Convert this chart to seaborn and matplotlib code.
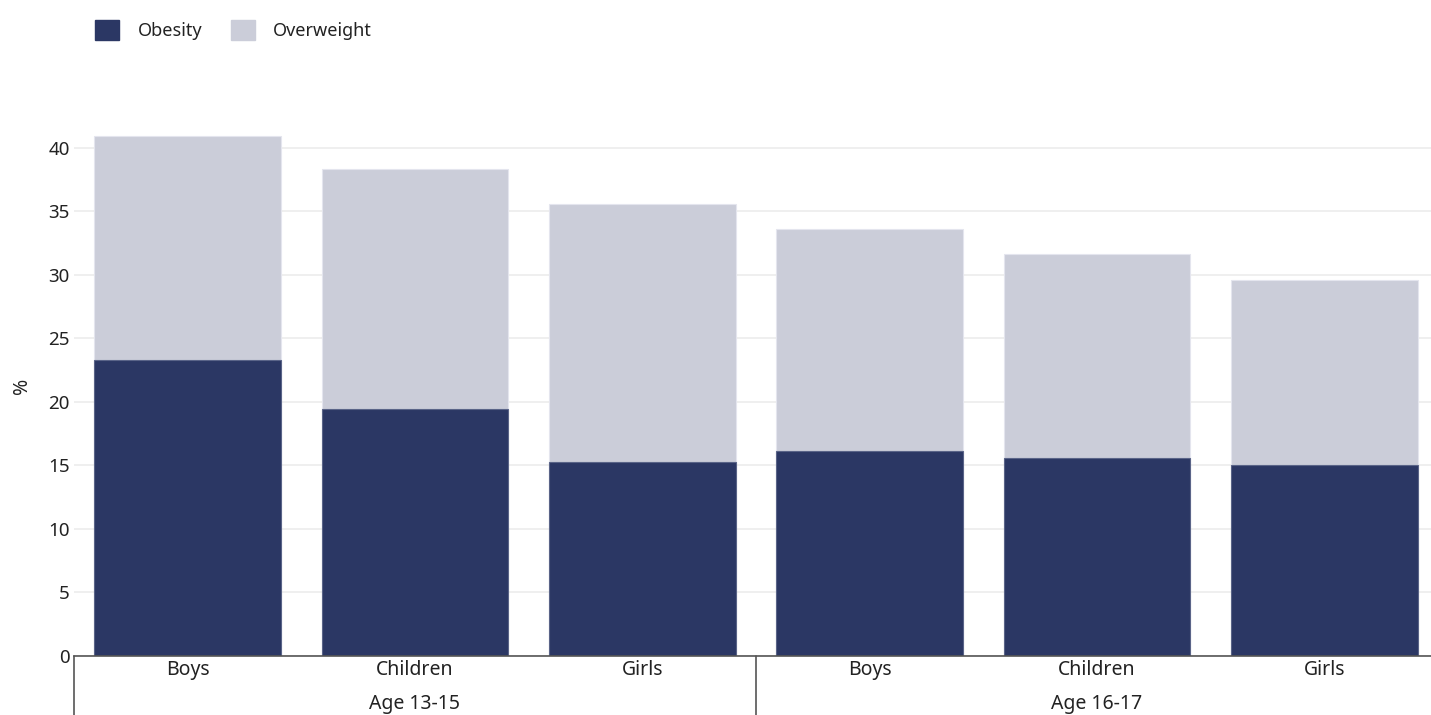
import matplotlib
matplotlib.use("Agg")
import matplotlib.pyplot as plt
import matplotlib.transforms as mtransforms
from matplotlib.patches import Patch
import seaborn as sns
import pandas as pd

# chart data
groups = ["Age 13-15", "Age 13-15", "Age 13-15", "Age 16-17", "Age 16-17", "Age 16-17"]
subgroups = ["Boys", "Children", "Girls", "Boys", "Children", "Girls"]
obesity = [23.3, 19.4, 15.3, 16.1, 15.6, 15.0]
overweight = [17.6, 18.9, 20.3, 17.5, 16.0, 14.6]
yticks = [0, 5, 10, 15, 20, 25, 30, 35, 40]

navy = "#2b3764"
light = "#cbcdd9"
text_col = "#222222"

sns.set_theme(style="white")
plt.rcParams["font.family"] = ["Noto Sans", "DejaVu Sans"]

df = pd.DataFrame({
    "key": [f"{g}|{s}" for g, s in zip(groups, subgroups)],
    "group": groups,
    "sub": subgroups,
    "obesity": obesity,
    "overweight": overweight,
})
df["total"] = df["obesity"] + df["overweight"]
order = list(df["key"])

fig = plt.figure(figsize=(14.31, 7.15), dpi=100)
ax = fig.add_axes([0.0517, 0.0825, 0.9532, 0.7555])

# stacked bars: total (overweight on top) first, then obesity over it
sns.barplot(data=df, x="key", y="total", order=order, color=light, width=0.82,
            edgecolor="#e4e5ee", linewidth=0.8, saturation=1, ax=ax)
sns.barplot(data=df, x="key", y="obesity", order=order, color=navy, width=0.82,
            edgecolor="#5a6488", linewidth=0.8, saturation=1, ax=ax)

ax.set_xlim(-0.5, len(order) - 0.5)
ax.set_ylim(0, 42.5)
ax.set_yticks(yticks)
ax.set_yticklabels([str(t) for t in yticks], fontsize=13.5, color=text_col)
ax.yaxis.grid(True, color="#ececec", linewidth=1.2)
ax.set_axisbelow(True)
ax.tick_params(axis="y", length=0, pad=3)
ax.tick_params(axis="x", length=0, pad=3)
ax.set_xticks(range(len(order)))
ax.set_xticklabels(subgroups, fontsize=14, color=text_col)
ax.set_xlabel("")
ax.set_ylabel("%", fontsize=14, color=text_col, labelpad=12)

for side in ["top", "right", "left"]:
    ax.spines[side].set_visible(False)
ax.spines["bottom"].set_color("#555555")
ax.spines["bottom"].set_linewidth(1.2)

# group labels and separators under the axis
trans = mtransforms.blended_transform_factory(ax.transData, ax.transAxes)
bottom_y = -0.0825 / 0.7555
for x in [-0.5, 2.5, 5.5]:
    ax.plot([x, x], [0, bottom_y], transform=trans, color="#555555",
            linewidth=1.2, clip_on=False)
seen = []
for i, g in enumerate(groups):
    if g in seen:
        continue
    seen.append(g)
    idx = [j for j, gg in enumerate(groups) if gg == g]
    center = (idx[0] + idx[-1]) / 2
    ax.text(center, -0.088, g, transform=trans, ha="center", va="center",
            fontsize=14, color=text_col)

handles = [Patch(facecolor=navy, edgecolor=navy, label="Obesity"),
           Patch(facecolor=light, edgecolor=light, label="Overweight")]
fig.legend(handles=handles, loc="upper left", bbox_to_anchor=(0.055, 0.995),
           ncol=2, frameon=False, fontsize=13, handlelength=1.35,
           handleheight=1.35, handletextpad=1.0, columnspacing=1.6,
           labelcolor=text_col)

fig.savefig("out.png", dpi=100)
plt.close(fig)
